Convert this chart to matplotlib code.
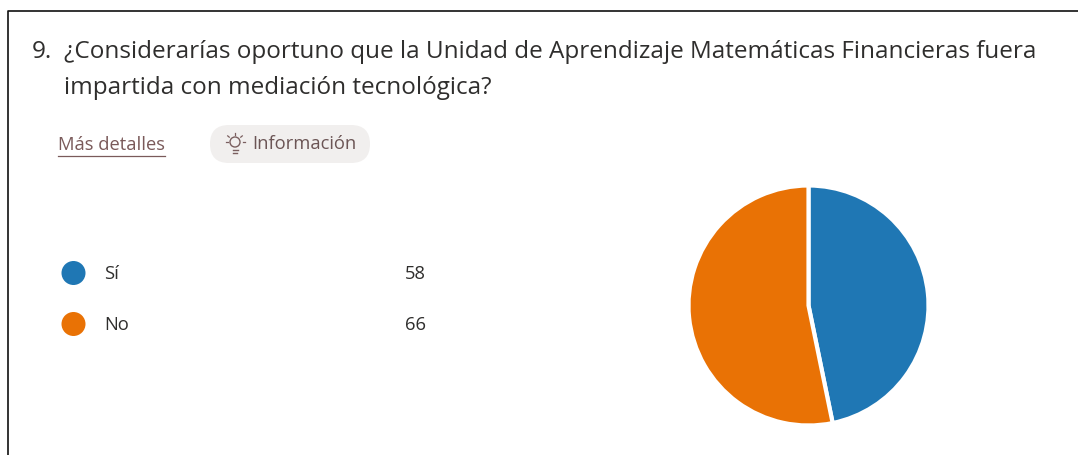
import numpy as np
import matplotlib
matplotlib.use('Agg')
import matplotlib.pyplot as plt
from matplotlib.patches import FancyBboxPatch, Circle

labels = ['Sí', 'No']
values = [58, 66]
colors = ['#1f77b4', '#e97205']
question_num = '9.'
question = ['¿Considerarías oportuno que la Unidad de Aprendizaje Matemáticas Financieras fuera',
            'impartida con mediación tecnológica?']

W, H = 1078, 455
plt.rcParams['font.family'] = ['Open Sans', 'DejaVu Sans']

fig = plt.figure(figsize=(W / 100, H / 100), dpi=100, facecolor='white')

# overlay in pixel coordinates for the form text
bg = fig.add_axes([0, 0, 1, 1])
bg.set_xlim(0, W)
bg.set_ylim(H, 0)
bg.axis('off')

# card border, only top and left show in the crop
bg.plot([7.5, 7.5, W], [H, 10.5, 10.5], color='#111111', lw=1.2)

bg.text(32, 52, question_num, fontsize=17.5, color='#2f2e2d', va='center')
bg.text(64, 52, question[0], fontsize=17.5, color='#2f2e2d', va='center')
bg.text(64, 88, question[1], fontsize=17.5, color='#2f2e2d', va='center')

bg.text(58, 145, 'Más detalles', fontsize=13.2, color='#7a5a5a', va='center')
bg.plot([58, 165], [155.5, 155.5], color='#7a5a5a', lw=0.9)

bg.add_patch(FancyBboxPatch((210, 125), 160, 38, boxstyle='round,pad=0,rounding_size=19',
                            fc='#f1efee', ec='none'))

# bulb icon, no installed font has it
bulb = '#7a5f5f'
bg.add_patch(Circle((235, 142), 5, fc='none', ec=bulb, lw=1))
bg.plot([232.5, 237.5], [149.5, 149.5], color=bulb, lw=1)
bg.plot([233, 237], [152.5, 152.5], color=bulb, lw=1)
for a in [0, 40, 90, 140, 180]:
    r = np.radians(a)
    bg.plot([235 + 7.5 * np.cos(r), 235 + 9.5 * np.cos(r)],
            [142 - 7.5 * np.sin(r), 142 - 9.5 * np.sin(r)], color=bulb, lw=0.9)

bg.text(252, 144, 'Información', fontsize=13.2, color='#6b5555', va='center')

for i, (lab, val) in enumerate(zip(labels, values)):
    y = 273 + i * 51
    bg.add_patch(Circle((73.5, y), 12, fc=colors[i], ec='none'))
    bg.text(104, y + 1, lab, fontsize=13.2, color='#2f2e2d', va='center')
    bg.text(405, y + 1, str(val), fontsize=13.2, color='#2f2e2d', va='center')

# pie, centre about (808.5, 305.5), radius about 119 px
ax = fig.add_axes([(808.5 - 120) / W, 1 - (305.5 + 120) / H, 240 / W, 240 / H])
ax.pie(values, colors=colors, startangle=90, counterclock=False, radius=1,
       wedgeprops={'edgecolor': 'white', 'linewidth': 3})
ax.set_xlim(-1.0, 1.0)
ax.set_ylim(-1.0, 1.0)

fig.savefig('out.png', dpi=100)
